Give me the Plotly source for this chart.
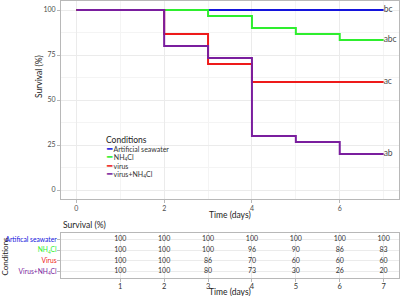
import plotly.graph_objects as go

# ---------------- data ----------------
days = [0, 1, 2, 3, 4, 5, 6, 7]
conditions = ["Artificial seawater", "NH<sub>4</sub>Cl", "virus", "virus+NH<sub>4</sub>Cl"]
colors = ["#1414DC", "#2EEE2E", "#EE1A1A", "#7A1E9E"]
surv_asw = [100, 100, 100, 100, 100, 100, 100, 100]
surv_nh4 = [100, 100, 100, 96.67, 90, 86.67, 83.33, 83.33]
surv_virus = [100, 100, 86.67, 70, 60, 60, 60, 60]
surv_vnh4 = [100, 100, 80, 73.33, 30, 26.67, 20, 20]
sig_letters = ["bc", "abc", "ac", "ab"]

table_days = [1, 2, 3, 4, 5, 6, 7]
table_rows = ["Artifical seawater", "NH<sub>4</sub>Cl", "Virus", "Virus+NH<sub>4</sub>Cl"]
tab_asw = [100, 100, 100, 100, 100, 100, 100]
tab_nh4 = [100, 100, 100, 96, 90, 86, 83]
tab_virus = [100, 100, 86, 70, 60, 60, 60]
tab_vnh4 = [100, 100, 80, 73, 30, 26, 20]

series = [surv_asw, surv_nh4, surv_virus, surv_vnh4]
tables = [tab_asw, tab_nh4, tab_virus, tab_vnh4]

FONT = "Lato"
GRID = "#EBEBEB"
MINOR = "#F4F4F4"
BORDER = "#B8B8B8"
TXT = "#4D4D4D"

W, H = 400, 296
ML, MR, MT, MB = 61, 1, 1, 18
PH = H - MT - MB


def py(ypx):
    return (H - MB - ypx) / PH


def px(xpx):
    return (xpx - ML) / (W - ML - MR)


fig = go.Figure()

for name, col, ys in zip(conditions, colors, series):
    fig.add_trace(go.Scatter(x=days, y=ys, mode="lines", line=dict(color=col, width=2, shape="hv"),
                             name=name, showlegend=False, xaxis="x", yaxis="y"))

fig.add_trace(go.Scatter(x=[days[-1]] * 4, y=[s[-1] for s in series], mode="text", text=sig_letters,
                         textposition="middle right", textfont=dict(family=FONT, size=8.5, color=TXT),
                         showlegend=False, cliponaxis=False, xaxis="x", yaxis="y"))

# table
row_pos = [4, 3, 2, 1]
for rp, vals in zip(row_pos, tables):
    fig.add_trace(go.Scatter(x=table_days, y=[rp] * len(table_days), mode="text",
                             text=[str(v) for v in vals], textfont=dict(family=FONT, size=7, color="#333333"),
                             showlegend=False, xaxis="x2", yaxis="y2"))

axis_common = dict(showline=True, linecolor=BORDER, linewidth=1, mirror=True, ticks="outside",
                   ticklen=3, tickcolor=BORDER, tickfont=dict(family=FONT, size=7, color=TXT),
                   zeroline=False, gridcolor=GRID, gridwidth=1, automargin=False)

fig.update_layout(
    width=W, height=H, margin=dict(l=ML, r=MR, t=MT, b=MB, autoexpand=False),
    paper_bgcolor="white", plot_bgcolor="white",
    xaxis=dict(range=[-0.35, 7.35], tickvals=[0, 2, 4, 6], anchor="y",
               minor=dict(tickvals=[1, 3, 5, 7], showgrid=True, gridcolor=MINOR, ticks=""),
               **axis_common),
    yaxis=dict(range=[-5, 105], tickvals=[0, 25, 50, 75, 100], domain=[py(199), 1], anchor="x",
               minor=dict(tickvals=[12.5, 37.5, 62.5, 87.5], showgrid=True, gridcolor=MINOR, ticks=""),
               **axis_common),
    xaxis2=dict(range=[-0.35, 7.35], tickvals=table_days, anchor="y2", ticklabelstandoff=-2,
                **{**axis_common, "tickfont": dict(family=FONT, size=7.5, color="#333333")}),
    yaxis2=dict(range=[0.4, 4.6], tickvals=row_pos, domain=[0, py(233)], anchor="x2",
                ticklabelstandoff=-1,
                ticktext=[f'<span style="color:{c}">{t}</span>' for t, c in zip(table_rows, colors)],
                **{**axis_common, "tickfont": dict(family=FONT, size=6.7, color=TXT)}),
)

TF = dict(family=FONT, size=8.5, color="#222222")


def note(text, xpx, ypx, angle=0, xanchor="center", font=TF):
    return dict(text=text, x=px(xpx), y=py(ypx), xref="paper", yref="paper", showarrow=False,
                xanchor=xanchor, yanchor="middle", textangle=angle, font=font)


ann = [
    note("Time (days)", 230, 215),
    note("Survival (%)", 39, 77, angle=-90),
    note("Survival (%)", 61, 225, xanchor="left"),
    note("Time (days)", 230, 291.5),
    note("Conditions", 4.5, 256, angle=-90, font=dict(family=FONT, size=8, color="#222222")),
    note("Conditions", 104, 140, xanchor="left"),
]
for i, (name, col) in enumerate(zip(conditions, colors)):
    ann.append(note(f'<span style="color:{col};font-size:8.5px">━</span> {name}', 104, 149 + 8.3 * i,
                    xanchor="left", font=dict(family=FONT, size=7, color="#333333")))
fig.update_layout(annotations=ann)

fig.write_html("out.html", config={"displayModeBar": False},
               post_script="document.body.style.margin='0';document.body.style.overflow='hidden';")
